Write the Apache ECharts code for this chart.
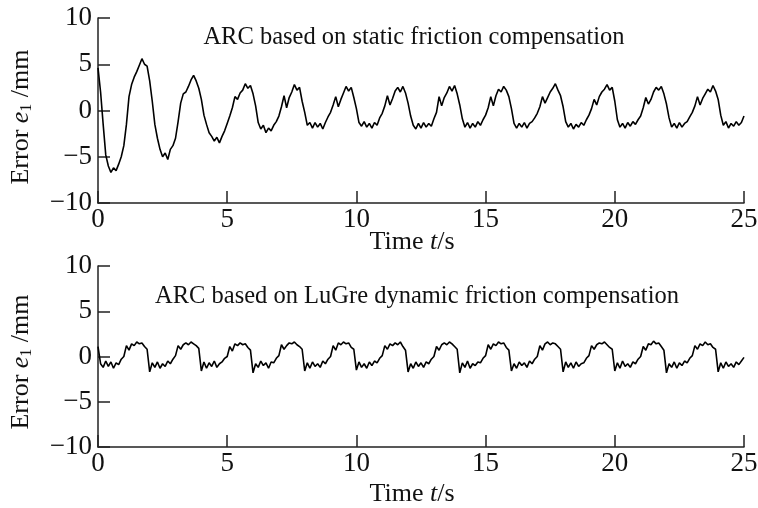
<!DOCTYPE html>
<html>
<head>
<meta charset="utf-8">
<script src="https://cdn.jsdelivr.net/npm/echarts@6/dist/echarts.min.js"></script>
<style>
html,body{margin:0;padding:0;background:#fff;}
#c{width:758px;height:508px;}
</style>
</head>
<body>
<div id="c"></div>
<script>
// Sampling interval of the recorded signals (s)
const dt = 0.1;
const xTicks = [0, 5, 10, 15, 20, 25];
const yTicks = [-10, -5, 0, 5, 10];
const title1 = 'ARC based on static friction compensation';
const title2 = 'ARC based on LuGre dynamic friction compensation';

// Tracking error e1 (mm), ARC with static friction compensation, t = 0 .. 25 s
const errStatic = [
  4.6, 2.0, -1.5, -4.8, -6.0, -6.7, -6.2, -6.5, -5.8, -5.0,
  -3.8, -1.5, 1.5, 2.8, 3.6, 4.2, 4.9, 5.6, 5.0, 4.8,
  3.2, 1.0, -1.5, -3.0, -4.2, -5.0, -4.6, -5.3, -4.2, -3.8,
  -3.0, -1.2, 0.8, 1.8, 2.0, 2.6, 3.3, 3.8, 3.2, 2.4,
  1.2, -0.5, -1.5, -2.4, -2.8, -3.3, -2.9, -3.5, -2.8, -2.2,
  -1.4, -0.6, 0.3, 1.5, 1.2, 1.9, 2.2, 2.9, 2.4, 2.7,
  1.8, 0.5, -1.3, -2.0, -1.6, -2.4, -1.9, -2.2, -1.6, -1.2,
  -0.6, 0.4, 1.6, 0.3, 1.4, 2.0, 2.8, 2.2, 2.5, 1.0,
  -0.2, -1.6, -1.3, -1.9, -1.3, -1.8, -1.4, -2.0, -1.3, -0.7,
  -0.2, 0.6, 1.5, 0.4, 1.2, 1.9, 2.6, 2.1, 2.5, 1.4,
  0.2, -1.3, -1.7, -1.2, -1.8, -1.4, -1.9, -1.3, -1.6, -0.8,
  -0.3, 0.5, 1.6, 0.6, 1.3, 2.1, 2.5, 2.0, 2.6, 1.9,
  0.8, -0.6, -1.6, -2.0, -1.4, -1.9, -1.3, -1.8, -1.4, -1.7,
  -0.9, -0.2, 1.5, 0.5, 1.4, 1.9, 2.6, 2.1, 2.7, 1.8,
  0.6, -0.9, -1.8, -1.3, -1.9, -1.4, -1.8, -1.2, -1.6, -1.0,
  -0.5, 0.3, 1.5, 0.5, 1.6, 2.3, 2.0, 2.6, 2.2, 1.5,
  0.2, -1.4, -1.9, -1.4, -1.8, -1.3, -1.9, -1.4, -1.2, -0.8,
  -0.3, 0.4, 1.5, 0.8, 1.4, 2.0, 2.4, 2.9, 2.2, 1.6,
  0.4, -1.2, -1.8, -1.4, -2.0, -1.5, -1.8, -1.3, -1.6, -1.0,
  -0.5, 0.2, 1.2, 0.6, 1.5, 2.0, 2.3, 2.8, 2.2, 2.5,
  1.0, -1.0, -1.8, -1.4, -1.9, -1.3, -1.7, -1.2, -1.5, -1.0,
  -0.6, 0.3, 1.4, 0.7, 1.2, 2.0, 2.5, 2.2, 2.6, 1.8,
  0.7, -0.8, -1.8, -1.4, -1.9, -1.3, -1.8, -1.4, -1.2, -0.7,
  -0.2, 0.5, 1.5, 0.6, 1.3, 1.8, 2.3, 2.0, 2.7, 2.1,
  1.2, -0.5, -1.6, -1.2, -1.9, -1.4, -1.7, -1.2, -1.6, -1.3,
  -0.6
];

// Tracking error e1 (mm), ARC with LuGre dynamic friction compensation, t = 0 .. 25 s
const errLuGre = [
  1.1, -0.8, -1.2, -0.5, -1.1, -0.6, -1.3, -0.7, -0.9, -0.3,
  0.0, 1.2, 0.7, 1.4, 1.2, 1.6, 1.4, 1.5, 1.1, 0.8,
  -1.7, -0.7, -1.2, -0.6, -1.3, -0.8, -1.1, -0.5, -0.8, -0.3,
  0.1, 1.2, 0.8, 1.3, 1.5, 1.3, 1.6, 1.4, 1.2, 0.9,
  -1.6, -0.6, -1.3, -0.7, -1.1, -0.5, -1.2, -0.8, -0.6, -0.2,
  0.0, 1.1, 0.6, 1.4, 1.2, 1.5, 1.3, 1.4, 1.0, 0.7,
  -1.8, -0.8, -1.2, -0.5, -1.0, -0.7, -1.3, -0.6, -0.7, -0.2,
  0.1, 1.3, 0.8, 1.2, 1.5, 1.4, 1.6, 1.3, 1.1, 0.8,
  -1.6, -0.7, -1.3, -0.6, -1.1, -0.8, -1.2, -0.5, -0.8, -0.3,
  0.0, 1.2, 0.7, 1.5, 1.3, 1.6, 1.4, 1.5, 1.0, 0.8,
  -1.5, -0.6, -1.2, -0.8, -1.3, -0.6, -1.0, -0.5, -0.7, -0.2,
  0.1, 1.2, 0.8, 1.4, 1.2, 1.5, 1.3, 1.6, 1.1, 0.7,
  -1.7, -0.8, -1.3, -0.6, -1.1, -0.7, -1.2, -0.6, -0.8, -0.3,
  0.0, 1.1, 0.7, 1.3, 1.5, 1.3, 1.6, 1.4, 1.1, 0.8,
  -1.8, -0.7, -1.2, -0.5, -1.3, -0.8, -1.0, -0.6, -0.7, -0.2,
  0.1, 1.3, 0.8, 1.4, 1.2, 1.6, 1.4, 1.5, 1.0, 0.7,
  -1.6, -0.8, -1.3, -0.6, -1.0, -0.7, -1.2, -0.5, -0.8, -0.3,
  0.0, 1.2, 0.7, 1.4, 1.6, 1.3, 1.5, 1.4, 1.1, 0.8,
  -1.7, -0.6, -1.2, -0.7, -1.3, -0.6, -1.1, -0.8, -0.7, -0.2,
  0.1, 1.2, 0.8, 1.3, 1.5, 1.4, 1.6, 1.3, 1.0, 0.8,
  -1.6, -0.7, -1.3, -0.5, -1.1, -0.8, -1.2, -0.6, -0.8, -0.3,
  0.0, 1.1, 0.7, 1.4, 1.3, 1.7, 1.4, 1.5, 1.1, 0.7,
  -1.8, -0.8, -1.2, -0.6, -1.3, -0.7, -1.0, -0.5, -0.7, -0.2,
  0.1, 1.2, 0.8, 1.4, 1.2, 1.6, 1.3, 1.4, 1.0, 0.8,
  -1.7, -0.7, -1.3, -0.6, -1.1, -0.8, -1.2, -0.6, -0.9, -0.5,
  -0.1
];

const FONT = '"Liberation Serif", "Times New Roman", serif';
const INK = '#111';

function pairs(vals) {
  return vals.map((v, i) => [+(i * dt).toFixed(2), v]);
}
function fmtNum(v) { return v < 0 ? '\u2212' + Math.abs(v) : String(v); }

const axisLineStyle = { color: '#222', width: 1.5 };

function xAxisCfg(gi) {
  return {
    type: 'value', gridIndex: gi,
    min: xTicks[0], max: xTicks[xTicks.length - 1], interval: xTicks[1] - xTicks[0],
    axisLine: { show: true, onZero: false, lineStyle: axisLineStyle },
    axisTick: { show: true, inside: true, length: 12, lineStyle: axisLineStyle },
    axisLabel: { show: true, margin: 3, fontFamily: FONT, fontSize: 27, color: INK, formatter: fmtNum },
    splitLine: { show: false }
  };
}
function yAxisCfg(gi) {
  return {
    type: 'value', gridIndex: gi,
    min: yTicks[0], max: yTicks[yTicks.length - 1], interval: yTicks[1] - yTicks[0],
    axisLine: { show: true, onZero: false, lineStyle: axisLineStyle },
    axisTick: { show: true, inside: true, length: 12, lineStyle: axisLineStyle },
    axisLabel: { show: true, margin: 6, fontFamily: FONT, fontSize: 27, color: INK, formatter: fmtNum },
    splitLine: { show: false }
  };
}

const richName = {
  n: { fontFamily: FONT, fontSize: 26, color: INK },
  i: { fontFamily: FONT, fontSize: 26, fontStyle: 'italic', color: INK },
  s: { fontFamily: FONT, fontSize: 16, color: INK, padding: [12, 0, 0, 0] }
};

function txt(x, y, text, rot) {
  return {
    type: 'text', x: x, y: y, rotation: rot || 0, silent: true,
    style: {
      text: text, rich: richName,
      fontFamily: FONT, fontSize: 26, fill: INK,
      align: 'center', verticalAlign: 'middle',
      textAlign: 'center', textVerticalAlign: 'middle'
    }
  };
}
function plain(x, y, text) {
  return {
    type: 'text', x: x, y: y, silent: true,
    style: {
      text: text, font: '24.5px ' + FONT, fill: INK,
      align: 'center', verticalAlign: 'middle',
      textAlign: 'center', textVerticalAlign: 'middle'
    }
  };
}

const chart = echarts.init(document.getElementById('c'), null, { renderer: 'canvas' });
chart.setOption({
  animation: false,
  backgroundColor: '#fff',
  grid: [
    { left: 98, top: 18, width: 646, height: 185, outerBoundsMode: 'none', containLabel: false },
    { left: 98, top: 266, width: 646, height: 181, outerBoundsMode: 'none', containLabel: false }
  ],
  xAxis: [xAxisCfg(0), xAxisCfg(1)],
  yAxis: [yAxisCfg(0), yAxisCfg(1)],
  series: [
    { type: 'line', xAxisIndex: 0, yAxisIndex: 0, data: pairs(errStatic), showSymbol: false,
      lineStyle: { color: '#000', width: 1.6 }, silent: true },
    { type: 'line', xAxisIndex: 1, yAxisIndex: 1, data: pairs(errLuGre), showSymbol: false,
      lineStyle: { color: '#000', width: 1.6 }, silent: true }
  ],
  graphic: [
    plain(414, 38, title1),
    plain(417, 297, title2),
    txt(412, 242, '{n|Time }{i|t}{n|/s}'),
    txt(412, 494, '{n|Time }{i|t}{n|/s}'),
    txt(21, 117, '{n|Error }{i|e}{s|1}{n| /mm}', Math.PI / 2),
    txt(21, 362, '{n|Error }{i|e}{s|1}{n| /mm}', Math.PI / 2)
  ]
});
</script>
</body>
</html>
